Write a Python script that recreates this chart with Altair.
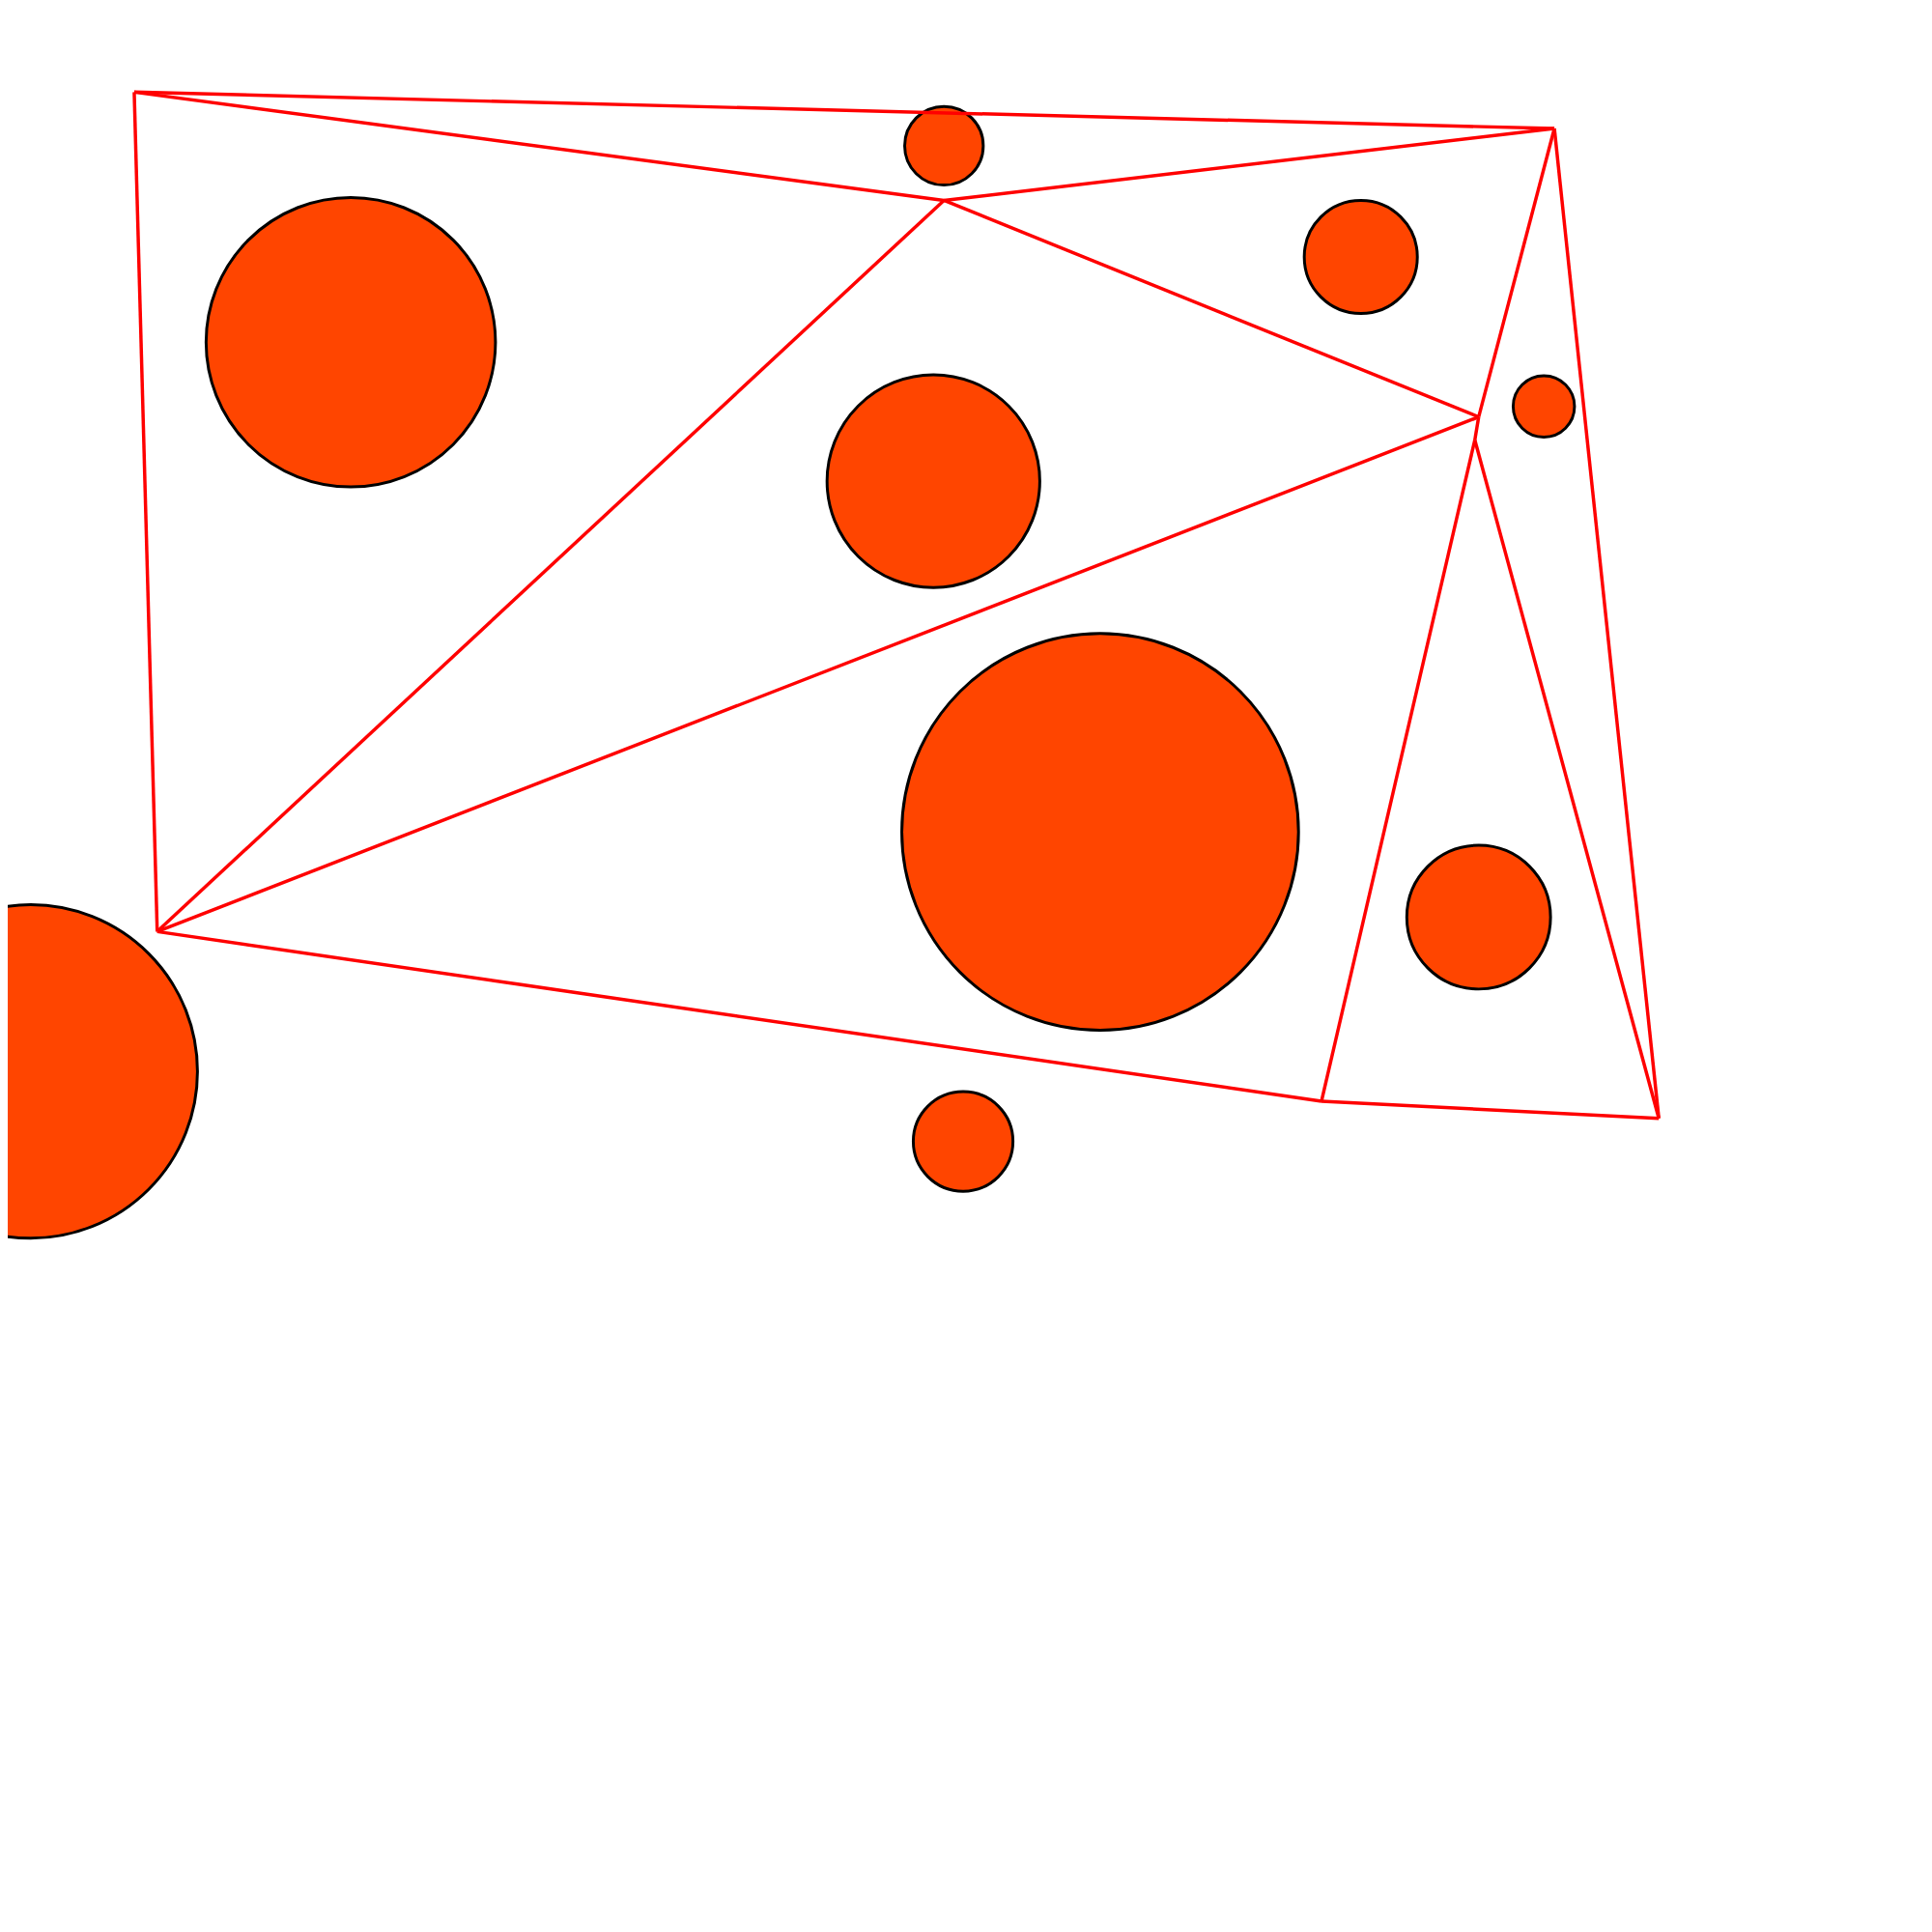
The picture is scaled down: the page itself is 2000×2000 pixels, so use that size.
import altair as alt
import pandas as pd

# circles: centre and radius in page pixels
cx = [366, 985, 1420, 974, 1611, 1148, 1543, 32, 1005]
cy = [349, 144, 260, 494, 416, 860, 949, 1110, 1183]
radius = [151, 41, 59, 111, 32, 207, 75, 174, 52]

# network edges
x1 = [140, 140, 985, 140, 985, 985, 1543, 164, 164, 1379, 1622, 1543, 1539, 1539]
y1 = [88, 88, 201, 88, 201, 201, 427, 964, 964, 1141, 126, 427, 451, 451]
x2 = [1622, 985, 1622, 164, 164, 1543, 1622, 1543, 1379, 1731, 1731, 1539, 1379, 1731]
y2 = [126, 201, 126, 964, 964, 427, 126, 427, 1141, 1159, 1159, 451, 1141, 1159]

circles = pd.DataFrame({"x": cx, "y": cy, "size": [(2 * r) ** 2 for r in radius]})
edges = pd.DataFrame({"x": x1, "y": y1, "x2": x2, "y2": y2})

xs = alt.Scale(domain=[8, 2008], range=[0, 2000])
ys = alt.Scale(domain=[8, 2008], range=[0, 2000])

dots = alt.Chart(circles).mark_circle(
    color="#ff4500", opacity=1, stroke="black", strokeWidth=3
).encode(
    x=alt.X("x:Q", scale=xs, axis=None),
    y=alt.Y("y:Q", scale=ys, axis=None),
    size=alt.Size("size:Q", scale=None, legend=None),
)

lines = alt.Chart(edges).mark_rule(color="red", strokeWidth=3.5).encode(
    x=alt.X("x:Q", scale=xs, axis=None),
    y=alt.Y("y:Q", scale=ys, axis=None),
    x2="x2:Q",
    y2="y2:Q",
)

chart = alt.layer(dots, lines).properties(
    width=2000, height=2000, padding=0, autosize="none"
).configure_view(stroke=None)

chart.save("out.html", embed_options={"renderer": "svg", "actions": False})
